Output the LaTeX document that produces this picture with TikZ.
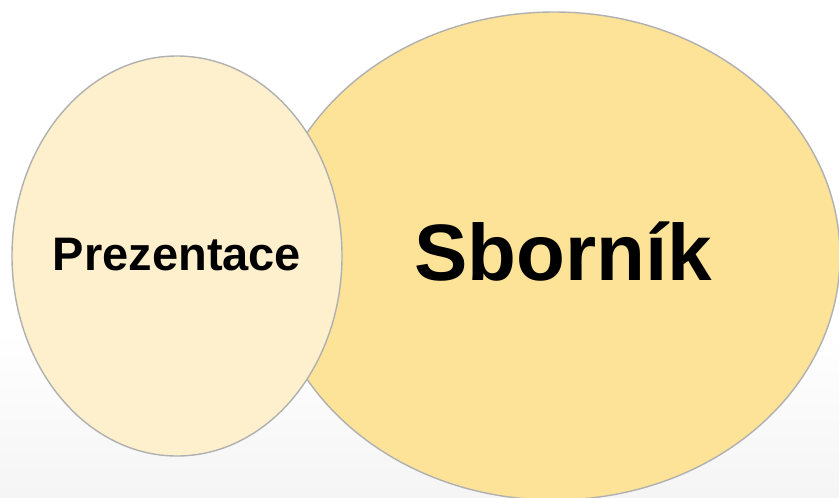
\documentclass[tikz,border=0pt]{standalone}
\usepackage{fontspec}
\setmainfont{Liberation Sans}
\usetikzlibrary{shapes.geometric}
\definecolor{sbornikfill}{HTML}{FDE398}
\definecolor{prezfill}{HTML}{FEF0CC}
\definecolor{rimgray}{HTML}{B0B0B0}
\tikzset{blob/.style={ellipse, draw=rimgray, line width=1.4pt, inner sep=0pt}}
\tikzset{label text/.style={anchor=base, inner sep=0pt, text=black}}

\begin{document}
\begin{tikzpicture}[x=1pt,y=-1pt]
    \useasboundingbox (0,0) rectangle (839,498);
    \fill [white] (0,0) rectangle (839,498);
    % faint grey towards the bottom of the slide
    \shade [top color=white, bottom color=black!4] (0,330) rectangle (839,498);

    \node [blob, fill=sbornikfill, minimum width=572pt, minimum height=488pt] (sbornik) at (554,256) {};
    \node [blob, fill=prezfill, minimum width=330pt, minimum height=400pt] (prezentace) at (177,256) {};

    \node [label text, font=\bfseries\fontsize{80}{80}\selectfont] (sbornikText) at (563,280) {Sborník};
    \node [label text, font=\bfseries\fontsize{47}{47}\selectfont] (prezentaceText) at (177,270) {Prezentace};
\end{tikzpicture}
\end{document}
